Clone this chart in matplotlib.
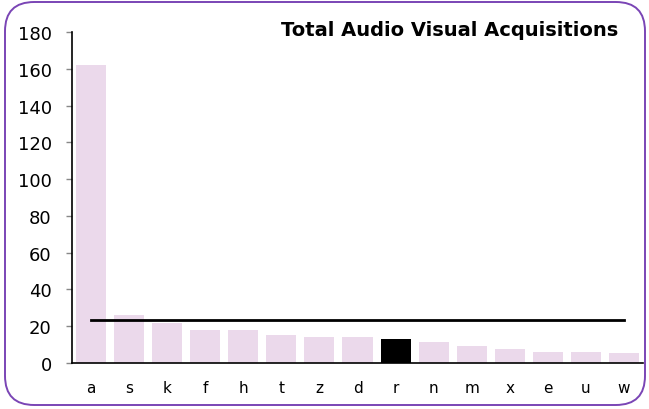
import matplotlib
matplotlib.use("Agg")
import matplotlib.pyplot as plt
from matplotlib.patches import FancyBboxPatch

# Data
categories = ["a", "s", "k", "f", "h", "t", "z", "d", "r", "n", "m", "x", "e", "u", "w"]
values = [162, 26, 22, 18, 18, 15.4, 14, 14, 13, 11.4, 9.2, 7.6, 6, 5.8, 5.4]
highlight = "r"
average = 23.2
title = "Total Audio Visual Acquisitions"
yticks = [0, 20, 40, 60, 80, 100, 120, 140, 160, 180]

W, H, DPI = 649, 410, 100
fig = plt.figure(figsize=(W / DPI, H / DPI), dpi=DPI)
plt.rcParams["font.family"] = ["DejaVu Sans"]

# Rounded purple frame around the whole chart
frame = FancyBboxPatch((5 / W, 4 / H), 640 / W, 403 / H,
                       boxstyle="round,pad=0,rounding_size=0.045",
                       transform=fig.transFigure, facecolor="none",
                       edgecolor="#7a45b5", linewidth=1.4, zorder=5,
                       mutation_aspect=W / H)
fig.patches.append(frame)

ax = fig.add_axes([72 / W, (H - 364) / H, (643 - 72) / W, (364 - 33) / H])
ax.set_facecolor("none")

x = list(range(len(categories)))
colors = ["#000000" if c == highlight else "#ebd9eb" for c in categories]
ax.bar(x, values, width=0.79, color=colors, zorder=2)
ax.plot([x[0], x[-1]], [average, average], color="black", linewidth=2, zorder=3)

ax.set_xlim(-0.5, len(categories) - 0.5)
ax.set_ylim(0, 180)
ax.set_yticks(yticks)
ax.set_xticks(x)
ax.set_xticklabels(categories)

for s in ("top", "right"):
    ax.spines[s].set_visible(False)
ax.spines["left"].set_color("black")
ax.spines["bottom"].set_color("black")
ax.spines["left"].set_linewidth(1.2)
ax.spines["bottom"].set_linewidth(1.2)

ax.tick_params(axis="y", length=4.5, width=1, color="#888888", pad=10, labelsize=13)
ax.tick_params(axis="x", length=0, pad=12, labelsize=11)

fig.text(618 / W, 1 - 31 / H, title, ha="right", va="center",
         fontsize=14, fontweight="bold")

fig.savefig("out.png", dpi=DPI)
